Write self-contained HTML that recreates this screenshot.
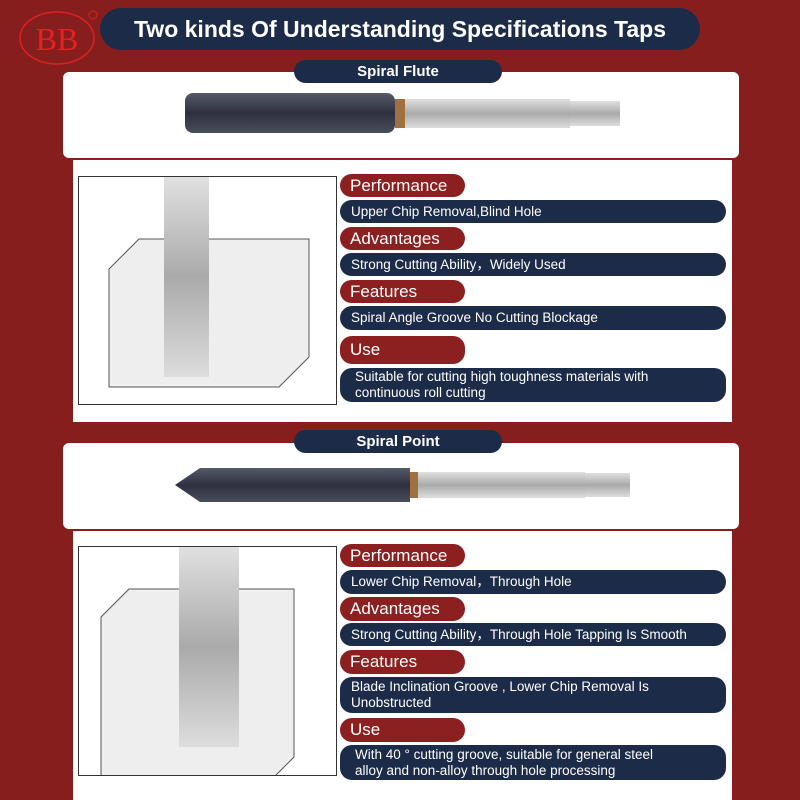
<!DOCTYPE html><html><head><style>
body{margin:0;width:800px;height:800px;background:#861e1e;position:relative;overflow:hidden;font-family:"Liberation Sans",sans-serif}
.a{position:absolute}
.nv{background:#1c2b48;color:#fff}
.rp{position:absolute;left:340px;width:125px;background:#8c1f1f;color:#fff;border-radius:12px;font-size:17px;padding-left:10px;box-sizing:border-box;display:flex;align-items:center}
.bar{position:absolute;left:340px;width:386px;background:#1c2b48;color:#fff;border-radius:12px;font-size:13.5px;padding-left:11px;box-sizing:border-box;display:flex;align-items:center;line-height:16px}
.wb{position:absolute;background:#fff;border-radius:6px}
</style></head><body>
<svg class="a" style="left:15px;top:8px" width="90" height="60"><ellipse cx="42" cy="30" rx="37" ry="26" fill="none" stroke="#e02020" stroke-width="1.5"/><text x="42" y="42" text-anchor="middle" font-family="Liberation Serif" font-size="32" fill="#e82020">BB</text><circle cx="78" cy="7" r="4" fill="none" stroke="#e02020"/></svg>
<div class="a nv" style="left:100px;top:8px;width:600px;height:42px;border-radius:21px;font-size:23px;font-weight:bold;display:flex;align-items:center;justify-content:center">Two kinds Of Understanding Specifications Taps</div>
<div class="wb" style="left:63px;top:72px;width:676px;height:86px"></div>
<div class="a nv" style="left:294px;top:60px;width:208px;height:23px;border-radius:12px;font-size:15px;font-weight:bold;text-align:center;line-height:23px">Spiral Flute</div>
<svg class="a" style="left:180px;top:85px" width="450" height="60"><defs><linearGradient id="g1" x1="0" y1="0" x2="0" y2="1"><stop offset="0" stop-color="#555a68"/><stop offset=".5" stop-color="#2e3040"/><stop offset="1" stop-color="#4a4d5a"/></linearGradient><linearGradient id="g2" x1="0" y1="0" x2="0" y2="1"><stop offset="0" stop-color="#e0e0e0"/><stop offset=".5" stop-color="#aaa"/><stop offset="1" stop-color="#ddd"/></linearGradient></defs><rect x="5" y="8" width="210" height="40" rx="8" fill="url(#g1)"/><rect x="215" y="14" width="175" height="29" fill="url(#g2)"/><rect x="390" y="16" width="50" height="25" fill="url(#g2)"/><rect x="215" y="14" width="10" height="29" fill="#a07040"/></svg>
<div class="a" style="left:73px;top:160px;width:659px;height:262px;background:#fff"></div>
<div class="a" style="left:78px;top:176px;width:257px;height:227px;border:1px solid #333;background:#fff"><svg width="257" height="227"><polygon points="30,92 60,62 230,62 230,180 200,210 30,210" fill="#eee" stroke="#555"/><rect x="85" y="0" width="45" height="200" fill="url(#g2)"/></svg></div>
<div class="rp" style="top:174px;height:23px">Performance</div>
<div class="bar" style="top:200px;height:23px">Upper Chip Removal,Blind Hole</div>
<div class="rp" style="top:227px;height:23px">Advantages</div>
<div class="bar" style="top:253px;height:23px">Strong Cutting Ability，Widely Used</div>
<div class="rp" style="top:280px;height:23px">Features</div>
<div class="bar" style="top:306px;height:24px">Spiral Angle Groove No Cutting Blockage</div>
<div class="rp" style="top:336px;height:28px">Use</div>
<div class="bar" style="top:368px;height:34px;padding-left:15px">Suitable for cutting high toughness materials with<br>continuous roll cutting</div>
<div class="wb" style="left:63px;top:443px;width:676px;height:86px"></div>
<div class="a nv" style="left:294px;top:430px;width:208px;height:23px;border-radius:12px;font-size:15px;font-weight:bold;text-align:center;line-height:23px">Spiral Point</div>
<svg class="a" style="left:170px;top:460px" width="470" height="50"><polygon points="5,25 30,8 240,8 240,42 30,42" fill="url(#g1)"/><rect x="240" y="12" width="175" height="26" fill="url(#g2)"/><rect x="240" y="12" width="8" height="26" fill="#a07040"/><rect x="415" y="13" width="45" height="24" fill="url(#g2)"/></svg>
<div class="a" style="left:73px;top:531px;width:659px;height:269px;background:#fff"></div>
<div class="a" style="left:78px;top:546px;width:257px;height:228px;border:1px solid #333;background:#fff"><svg width="257" height="228"><polygon points="22,40 50,12 215,12 215,180 190,205 22,205" fill="#eee" stroke="#555" transform="translate(0,30)"/><rect x="100" y="0" width="60" height="200" fill="url(#g2)"/></svg></div>
<div class="rp" style="top:544px;height:23px">Performance</div>
<div class="bar" style="top:570px;height:24px">Lower Chip Removal，Through Hole</div>
<div class="rp" style="top:597px;height:24px">Advantages</div>
<div class="bar" style="top:623px;height:23px">Strong Cutting Ability，Through Hole Tapping Is Smooth</div>
<div class="rp" style="top:650px;height:24px">Features</div>
<div class="bar" style="top:677px;height:36px">Blade Inclination Groove , Lower Chip Removal Is<br>Unobstructed</div>
<div class="rp" style="top:718px;height:24px">Use</div>
<div class="bar" style="top:745px;height:35px;padding-left:15px">With 40 ° cutting groove, suitable for general steel<br>alloy and non-alloy through hole processing</div>
</body></html>
